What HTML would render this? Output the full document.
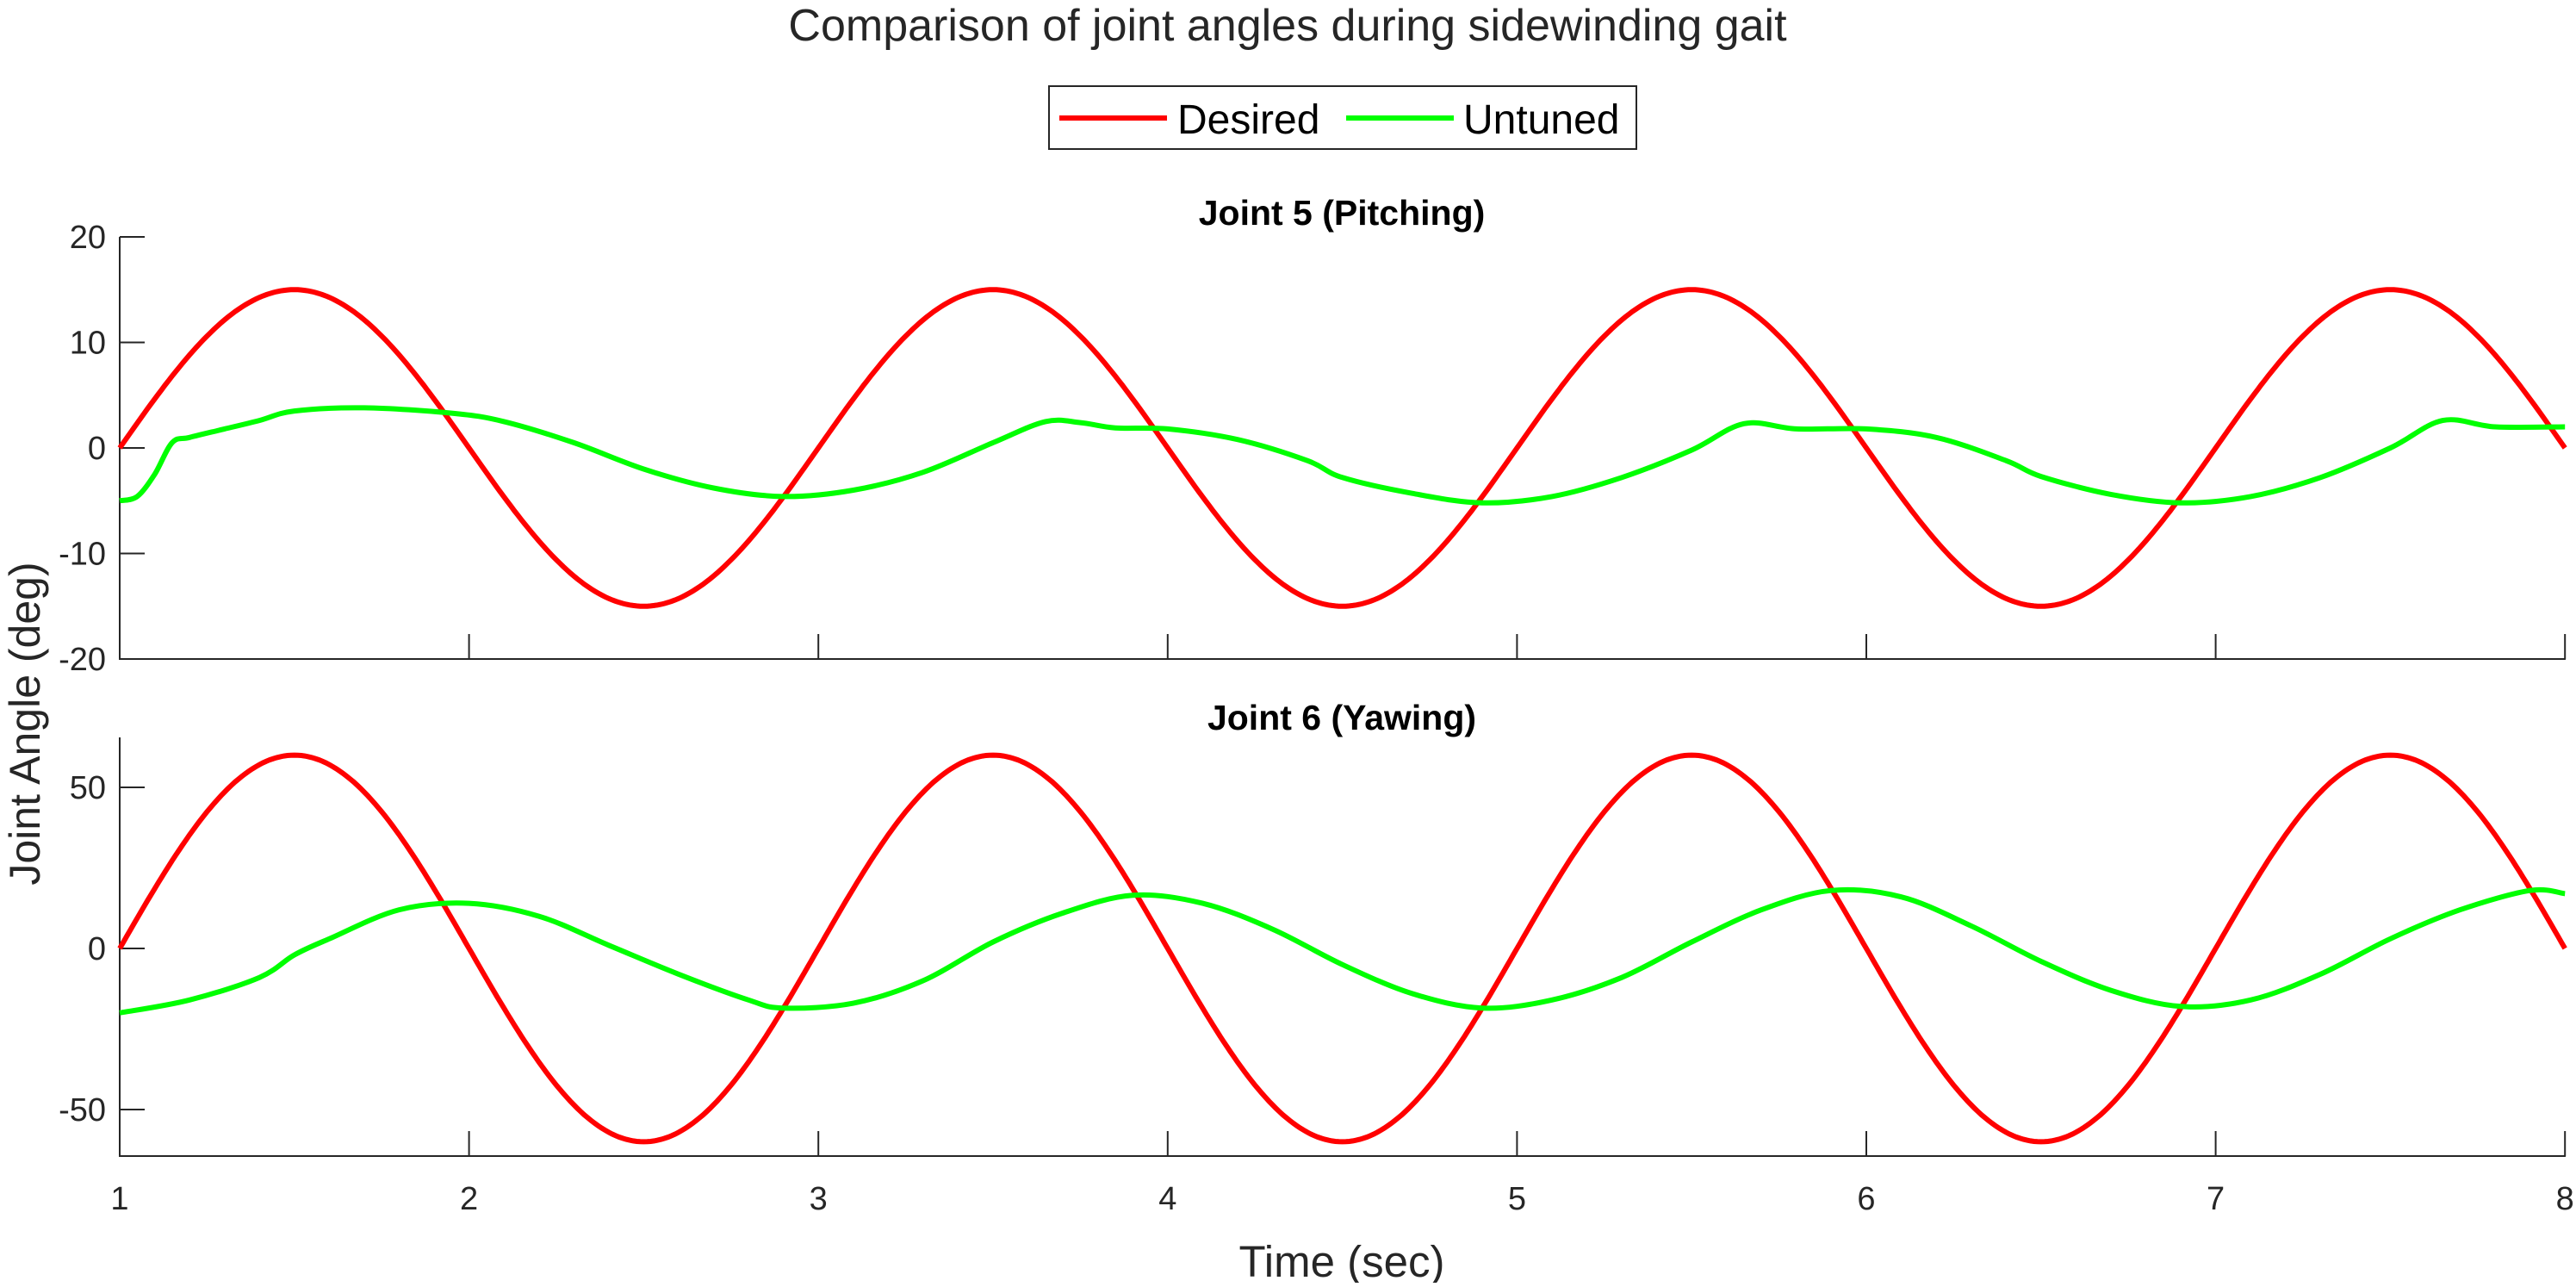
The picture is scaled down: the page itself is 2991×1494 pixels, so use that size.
<!DOCTYPE html>
<html><head><meta charset="utf-8"><style>
html,body{margin:0;padding:0;background:#fff;}
svg text{font-family:"Liberation Sans",Arial,sans-serif;fill:#262626;}
</style></head><body>
<svg id="s" width="2991" height="1489" xmlns="http://www.w3.org/2000/svg">
<rect width="2991" height="1489" fill="#fff"/>
<text x="1495" y="47" font-size="52" text-anchor="middle">Comparison of joint angles during sidewinding gait</text>
<rect x="1218" y="100" width="682" height="73" fill="#fff" stroke="#262626" stroke-width="2"/>
<line x1="1230" y1="137" x2="1355" y2="137" stroke="#f00" stroke-width="6"/>
<line x1="1563" y1="137" x2="1688" y2="137" stroke="#0f0" stroke-width="6"/>
<text x="1367" y="155" font-size="48" style="fill:#000">Desired</text>
<text x="1699" y="155" font-size="48" style="fill:#000">Untuned</text>
<text x="1558" y="261" font-size="41" font-weight="bold" text-anchor="middle" style="fill:#000">Joint 5 (Pitching)</text>
<text x="1558" y="847" font-size="41" font-weight="bold" text-anchor="middle" style="fill:#000">Joint 6 (Yawing)</text>
<text x="1558" y="1482" font-size="51" text-anchor="middle">Time (sec)</text>
<text transform="translate(46,840) rotate(-90)" font-size="50" text-anchor="middle">Joint Angle (deg)</text>
<g id="g"></g>
</svg>
<script>
var g=document.getElementById('g');var h='';
var X0=139,XS=405.6;
function X(t){return X0+(t-1)*XS;}
function T(y0,s){return function(v){return y0-v*s;};}
var Y1=T(520,12.25),Y2=T(1101,3.74);
function axes(top,bot,Y,ticks){
 h+='<line x1="139" y1="'+top+'" x2="139" y2="'+bot+'" stroke="#262626" stroke-width="2"/>';
 h+='<line x1="138" y1="'+bot+'" x2="2979" y2="'+bot+'" stroke="#262626" stroke-width="2"/>';
 for(var t=2;t<=8;t++){var x=X(t);h+='<line x1="'+x+'" y1="'+bot+'" x2="'+x+'" y2="'+(bot-29)+'" stroke="#262626" stroke-width="2"/>';}
 ticks.forEach(function(v){var y=Y(v);h+='<line x1="139" y1="'+y+'" x2="168" y2="'+y+'" stroke="#262626" stroke-width="2"/>';
 h+='<text x="123" y="'+(y+13)+'" font-size="38" text-anchor="end">'+v+'</text>';});
}
axes(275,765,Y1,[20,10,0,-10,-20]);
axes(856,1342,Y2,[50,0,-50]);
for(var t=1;t<=8;t++){h+='<text x="'+X(t)+'" y="1404" font-size="38" text-anchor="middle">'+t+'</text>';}
function sinPath(A,Y){var p='';for(var i=0;i<=700;i++){var t=1+i*0.01;p+=(i?'L':'M')+X(t).toFixed(1)+','+Y(A*Math.sin(Math.PI*(t-1))).toFixed(1);}return p;}
function catmull(pts,Y){var P=pts.map(function(q){return [X(q[0]),Y(q[1])];});var d='M'+P[0][0]+','+P[0][1];
 for(var i=0;i<P.length-1;i++){var p0=P[Math.max(0,i-1)],p1=P[i],p2=P[i+1],p3=P[Math.min(P.length-1,i+2)];
 d+='C'+(p1[0]+(p2[0]-p0[0])/6).toFixed(1)+','+(p1[1]+(p2[1]-p0[1])/6).toFixed(1)+' '+(p2[0]-(p3[0]-p1[0])/6).toFixed(1)+','+(p2[1]-(p3[1]-p1[1])/6).toFixed(1)+' '+p2[0].toFixed(1)+','+p2[1].toFixed(1);}
 return d;}
var g1=[[1,-5],[1.05,-4.6],[1.1,-2.5],[1.15,0.5],[1.2,1.0],[1.3,1.8],[1.4,2.6],[1.5,3.5],[1.7,3.8],[1.95,3.3],[2.1,2.5],[2.3,0.5],[2.5,-2],[2.7,-3.8],[2.9,-4.6],[3.1,-4.0],[3.3,-2.3],[3.5,0.5],[3.65,2.5],[3.75,2.4],[3.85,1.9],[4.0,1.8],[4.2,0.8],[4.4,-1.2],[4.5,-2.8],[4.7,-4.3],[4.9,-5.2],[5.1,-4.6],[5.3,-2.8],[5.5,-0.2],[5.65,2.3],[5.8,1.8],[6.0,1.8],[6.2,1.0],[6.4,-1.2],[6.5,-2.7],[6.7,-4.4],[6.9,-5.2],[7.1,-4.6],[7.3,-2.8],[7.5,0],[7.65,2.6],[7.8,2.0],[8.0,2.0]];
var g2=[[1,-20],[1.2,-16],[1.4,-9],[1.5,-2],[1.6,3],[1.8,12],[2.0,14],[2.2,10],[2.4,1],[2.6,-8],[2.8,-16],[2.9,-18.5],[3.1,-17],[3.3,-10],[3.5,2],[3.7,11],[3.9,16.5],[4.1,14],[4.3,6],[4.5,-5],[4.7,-14],[4.9,-18.5],[5.1,-16],[5.3,-9],[5.5,2],[5.7,12],[5.9,18],[6.1,16],[6.3,7],[6.5,-4],[6.7,-13],[6.9,-18],[7.1,-16],[7.3,-8],[7.5,3],[7.7,12],[7.9,18],[8.0,17]];
h+='<path d="'+sinPath(15,Y1)+'" fill="none" stroke="#f00" stroke-width="6"/>';
h+='<path d="'+catmull(g1,Y1)+'" fill="none" stroke="#0f0" stroke-width="6"/>';
h+='<path d="'+sinPath(60,Y2)+'" fill="none" stroke="#f00" stroke-width="6"/>';
h+='<path d="'+catmull(g2,Y2)+'" fill="none" stroke="#0f0" stroke-width="6"/>';
g.innerHTML=h;
</script>
</body></html>
